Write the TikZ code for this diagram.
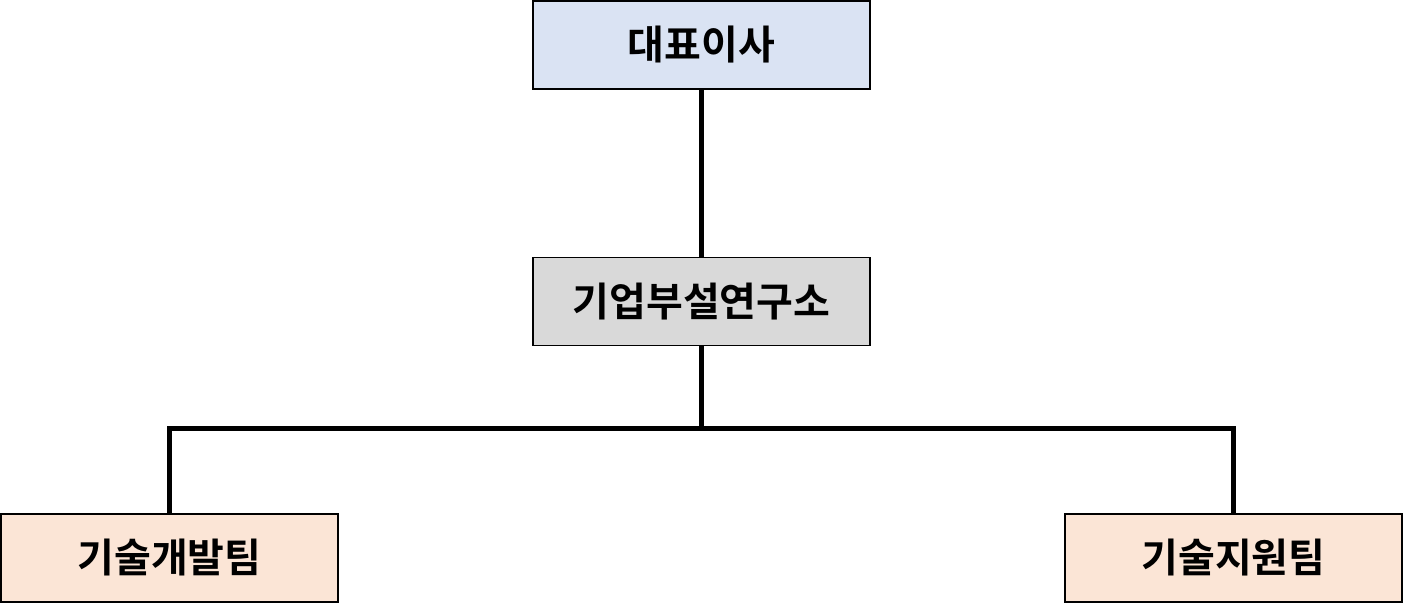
\documentclass[tikz,border=0pt]{standalone}
\usepackage{fontspec}
\newfontfamily\kr{Noto Sans CJK KR Bold}
\definecolor{blueF}{HTML}{DAE3F3}
\definecolor{grayF}{HTML}{D9D9D9}
\definecolor{peachF}{HTML}{FBE5D6}
\begin{document}
\begin{tikzpicture}[x=0.5pt,y=0.5pt,
  box/.style={draw=black,line width=0.6pt,minimum width=168.5pt,minimum height=44pt,inner sep=0pt,font=\kr\fontsize{20}{22}\selectfont},
  conn/.style={line width=2.5pt}]
\useasboundingbox (0,0) rectangle (1403,603);
\node[box,fill=blueF] (ceo) at (701.5,558) {대표이사};
\node[box,fill=grayF] (lab) at (701.5,301.5) {기업부설연구소};
\node[box,fill=peachF] (dev) at (169.5,45) {기술개발팀};
\node[box,fill=peachF] (sup) at (1233.5,45) {기술지원팀};
\coordinate (mid) at (701.5,174);
\draw[conn] (ceo.south) -- (lab.north);
\draw[conn] (lab.south) -- (mid);
\draw[conn] (mid) -| (dev.north);
\draw[conn] (mid) -| (sup.north);
\end{tikzpicture}
\end{document}
